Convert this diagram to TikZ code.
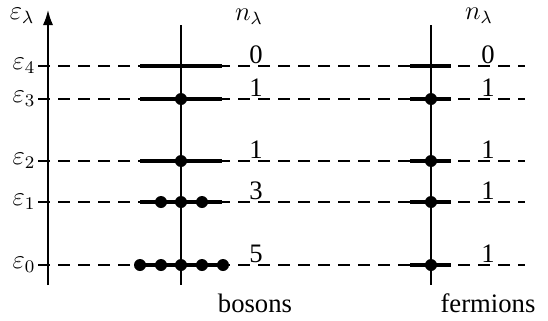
\documentclass[tikz,border=0pt]{standalone}
\usepackage{fontspec}
\setmainfont{Liberation Serif}
\usetikzlibrary{arrows.meta}

\begin{document}
\begin{tikzpicture}[x=0.45pt,y=-0.45pt,
  level/.style={line width=0.6pt,dash pattern=on 5.4pt off 3.6pt},
  bar/.style={line width=1.8pt},
  stem/.style={line width=0.7pt},
  num/.style={font=\large,above,inner sep=0.8pt},
  elabel/.style={font=\large,left,inner sep=1pt},
  dot/.style={circle,fill=black,inner sep=0pt,minimum size=5.4pt}]
\useasboundingbox (0,0) rectangle (548,321);
% energy axis
\coordinate (axb) at (48,285);
\coordinate (axt) at (48,10);
\draw[stem,-{Latex[length=6.8pt,width=4.6pt]}] (axb) -- (axt);
\node[font=\large] (elam) at (22,16) {$\varepsilon_\lambda$};
% levels
\coordinate (l4) at (38,66);  \coordinate (r4) at (525,66);
\coordinate (l3) at (38,99);  \coordinate (r3) at (525,99);
\coordinate (l2) at (38,161); \coordinate (r2) at (525,161);
\coordinate (l1) at (38,202); \coordinate (r1) at (525,202);
\coordinate (l0) at (38,265); \coordinate (r0) at (525,265);
\draw[level] (l4) -- (r4);
\draw[level] (l3) -- (r3);
\draw[level] (l2) -- (r2);
\draw[level] (l1) -- (r1);
\draw[level] (l0) -- (r0);
\node[elabel] (e4) at (l4) {$\varepsilon_4$};
\node[elabel] (e3) at (l3) {$\varepsilon_3$};
\node[elabel] (e2) at (l2) {$\varepsilon_2$};
\node[elabel] (e1) at (l1) {$\varepsilon_1$};
\node[elabel] (e0) at (l0) {$\varepsilon_0$};
% bosons
\coordinate (bt) at (181,25);
\coordinate (bb) at (181,285);
\draw[stem] (bt) -- (bb);
\draw[bar] (140,66) -- (222,66);
\draw[bar] (140,99) -- (222,99);
\draw[bar] (140,161) -- (222,161);
\draw[bar] (140,202) -- (222,202);
\draw[bar] (140,265) -- (222,265);
\node[dot] (b3) at (181,99) {};
\node[dot] (b2) at (181,161) {};
\node[dot] (b1a) at (161,202) {};
\node[dot] (b1b) at (181,202) {};
\node[dot] (b1c) at (202,202) {};
\node[dot] (b0a) at (140,265) {};
\node[dot] (b0b) at (161,265) {};
\node[dot] (b0c) at (181,265) {};
\node[dot] (b0d) at (202,265) {};
\node[dot] (b0e) at (223,265) {};
\node[font=\large] (bn) at (249,17) {$n_\lambda$};
\node[num] (bn4) at (256,66) {0};
\node[num] (bn3) at (256,99) {1};
\node[num] (bn2) at (256,161) {1};
\node[num] (bn1) at (256,202) {3};
\node[num] (bn0) at (256,265) {5};
\node[font=\large] (bos) at (255,303) {bosons};
% fermions
\coordinate (ft) at (431,25);
\coordinate (fb) at (431,285);
\draw[stem] (ft) -- (fb);
\draw[bar] (410,66) -- (451,66);
\draw[bar] (410,99) -- (451,99);
\draw[bar] (410,161) -- (451,161);
\draw[bar] (410,202) -- (451,202);
\draw[bar] (410,265) -- (451,265);
\node[dot] (f3) at (431,99) {};
\node[dot] (f2) at (431,161) {};
\node[dot] (f1) at (431,202) {};
\node[dot] (f0) at (431,265) {};
\node[font=\large] (fn) at (479,16) {$n_\lambda$};
\node[num] (fn4) at (488,66) {0};
\node[num] (fn3) at (488,99) {1};
\node[num] (fn2) at (488,161) {1};
\node[num] (fn1) at (488,202) {1};
\node[num] (fn0) at (488,265) {1};
\node[font=\large] (fer) at (488,303) {fermions};
\end{tikzpicture}
\end{document}
